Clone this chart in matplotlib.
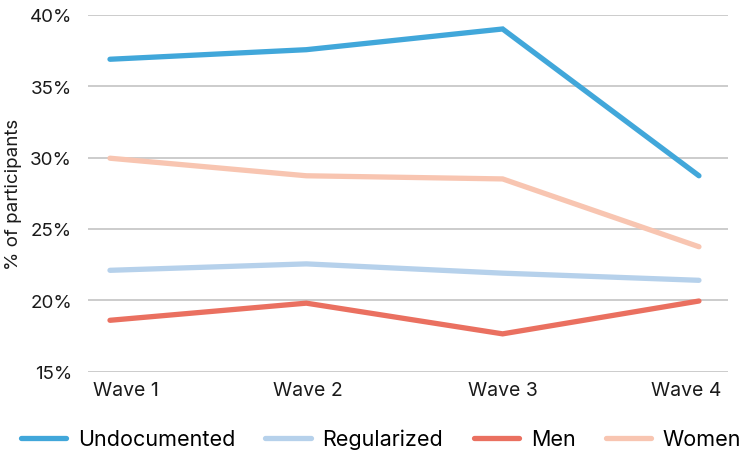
import matplotlib.pyplot as plt
from matplotlib.ticker import FuncFormatter

plt.rcParams['font.family'] = ['Inter', 'DejaVu Sans']

waves = ['Wave 1', 'Wave 2', 'Wave 3', 'Wave 4']
undocumented = [36.88, 37.55, 39.0, 28.72]
regularized = [22.1, 22.55, 21.9, 21.4]
men = [18.6, 19.8, 17.65, 19.95]
women = [29.95, 28.72, 28.5, 23.75]

series = [
    ('Undocumented', undocumented, '#41a7da'),
    ('Regularized', regularized, '#b6d1eb'),
    ('Men', men, '#ea7060'),
    ('Women', women, '#f8c5b1'),
]

fig = plt.figure(figsize=(7.42, 4.52), dpi=100)
ax = fig.add_axes([88 / 742, 1 - 372.7 / 452, (728 - 88) / 742, (372.7 - 15.7) / 452])

x = range(len(waves))
for name, vals, color in series:
    ax.plot(x, vals, color=color, lw=3.8, label=name,
            solid_capstyle='round', solid_joinstyle='miter', zorder=3)

ax.set_ylim(15, 40)
ax.set_yticks(range(15, 41, 5))
ax.yaxis.set_major_formatter(FuncFormatter(lambda v, p: f'{v:.0f}%'))
ax.set_xlim(-0.112, 3.148)
ax.set_xticks(list(x))
ax.set_xticklabels([])

# category labels, edge ones nudged inward
nudges = [11.5, 1.4, 0, -9.4]
for i, (w, dx) in enumerate(zip(waves, nudges)):
    ax.annotate(w, xy=(i, 0), xycoords=('data', 'axes fraction'),
                xytext=(dx, -7), textcoords='offset points',
                ha='center', va='top', fontsize=14, color='#1a1a1a')

ax.grid(axis='y', color='#c4c4c4', lw=1.2, zorder=0)
ax.tick_params(axis='both', length=0, colors='#1a1a1a')
ax.tick_params(axis='y', pad=11.5, labelsize=13.5)
for s in ax.spines.values():
    s.set_visible(False)
ax.set_ylabel('% of participants', fontsize=13.5, color='#1a1a1a')
ax.yaxis.set_label_coords(-0.103, 0.5)

fig.legend(loc='center', bbox_to_anchor=(0.5 + 10 / 742, 1 - 440 / 452), ncol=4,
           frameon=False, fontsize=15.5, handlelength=2.1, handletextpad=0.56,
           columnspacing=1.4, borderaxespad=0)

fig.savefig('out.png', dpi=100)
